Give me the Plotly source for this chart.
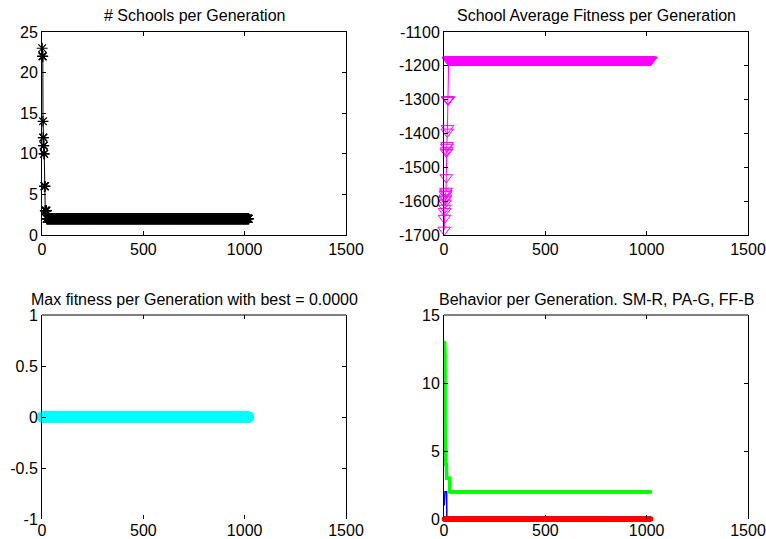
import plotly.graph_objects as go

# ---- data -------------------------------------------------------------
n_generations = 1020

# number of schools: transient at start, then steady count
schools_early = [23, 22, 22, 22, 14, 12, 12, 11, 11, 10, 10, 6, 6, 6, 6,
                 3, 3, 3, 3, 3, 3, 3]
schools_steady = 2

# school average fitness
avg_fitness_early = [-1685, -1650, -1630, -1620, -1605, -1595, -1590, -1580,
                     -1575, -1570, -1530, -1455, -1450, -1440, -1435, -1395,
                     -1385, -1300, -1300, -1300, -1300]
avg_fitness_steady = -1183

# max fitness per generation
max_fitness_steady = 0.0

# behaviour counts: SM (red), PA (green), FF (blue)
sm_early = [0]
sm_steady = 0
pa_early = [11, 13, 13, 12, 12, 5, 5, 5, 4, 4, 4, 4, 3, 3, 3, 3, 3, 3, 3,
            3, 3, 3, 3, 3, 3, 3, 3]
pa_steady = 2
ff_early = [1, 2, 1, 2, 2, 2, 2, 2, 2, 2, 2, 2, 2]
ff_steady = 0

# axis ticks
x_ticks = [0, 500, 1000, 1500]
x_ticktext = ["0", "500", "1000", "1500"]
schools_ticks = [0, 5, 10, 15, 20, 25]
fitness_ticks = [-1700, -1600, -1500, -1400, -1300, -1200, -1100]
fitness_ticktext = ["-1700", "-1600", "-1500", "-1400", "-1300", "-1200", "-1100"]
maxfit_ticks = [-1, -0.5, 0, 0.5, 1]
maxfit_ticktext = ["-1", "-0.5", "0", "0.5", "1"]
behavior_ticks = [0, 5, 10, 15]

titles = ["# Schools per Generation",
          "School Average Fitness per Generation",
          "Max fitness per Generation with best = 0.0000",
          "Behavior per Generation. SM-R, PA-G, FF-B"]


def series(early, steady):
    return list(early) + [steady] * (n_generations - len(early))


gens = list(range(1, n_generations + 1))
schools = series(schools_early, schools_steady)
avg_fitness = series(avg_fitness_early, avg_fitness_steady)
max_fitness = series([], max_fitness_steady)
sm = series(sm_early, sm_steady)
pa = series(pa_early, pa_steady)
ff = series(ff_early, ff_steady)

# ---- figure -----------------------------------------------------------
W, H = 766, 539
FONT = "Liberation Sans, Arial, Helvetica, sans-serif"
FONT_SIZE = 16


def dom_x(x0, x1):
    return [x0 / W, x1 / W]


def dom_y(top, bottom):
    return [(H - bottom) / H, (H - top) / H]


col_x = [dom_x(42, 346), dom_x(444, 748)]
row_y = [dom_y(32, 235), dom_y(315, 519)]

fig = go.Figure()

fig.add_trace(go.Scatter(
    x=gens, y=schools, mode="lines+markers", xaxis="x", yaxis="y",
    line=dict(color="black", width=1),
    marker=dict(symbol="asterisk-open", size=9, color="black",
                line=dict(color="black", width=1.2)),
    cliponaxis=False, showlegend=False))

fig.add_trace(go.Scatter(
    x=gens, y=avg_fitness, mode="lines+markers", xaxis="x2", yaxis="y2",
    line=dict(color="#FF00FF", width=1),
    marker=dict(symbol="triangle-down-open", size=11, color="#FF00FF",
                line=dict(color="#FF00FF", width=1)),
    cliponaxis=False, showlegend=False))

fig.add_trace(go.Scatter(
    x=gens, y=max_fitness, mode="lines+markers", xaxis="x3", yaxis="y3",
    line=dict(color="#00FFFF", width=1),
    marker=dict(symbol="circle", size=11, color="#00FFFF"),
    cliponaxis=False, showlegend=False))

fig.add_trace(go.Scatter(
    x=gens, y=pa, mode="lines+markers", xaxis="x4", yaxis="y4",
    line=dict(color="#00FF00", width=3.5),
    marker=dict(symbol="circle", size=3, color="#00FF00"),
    cliponaxis=False, showlegend=False))
fig.add_trace(go.Scatter(
    x=gens, y=ff, mode="lines", xaxis="x4", yaxis="y4",
    line=dict(color="#0000FF", width=1.5),
    cliponaxis=False, showlegend=False))
fig.add_trace(go.Scatter(
    x=gens, y=sm, mode="lines+markers", xaxis="x4", yaxis="y4",
    line=dict(color="#FF0000", width=4),
    marker=dict(symbol="circle", size=5, color="#FF0000"),
    cliponaxis=False, showlegend=False))

tickfont = dict(family=FONT, size=FONT_SIZE, color="black")
common_x = dict(range=[0, 1500], tickvals=x_ticks, ticktext=x_ticktext,
                ticks="inside", ticklen=4, tickcolor="black",
                showgrid=False, zeroline=False, tickfont=tickfont,
                automargin=False)
common_y = dict(ticks="inside", ticklen=4, tickcolor="black",
                showgrid=False, zeroline=False, tickfont=tickfont,
                automargin=False,
                showline=True, linecolor="black", linewidth=1, mirror="ticks")

fig.update_layout(
    width=W, height=H, margin=dict(l=0, r=0, t=0, b=0),
    paper_bgcolor="white", plot_bgcolor="white",
    xaxis=dict(domain=col_x[0], anchor="y", showline=True, linecolor="black",
               mirror="ticks", **common_x),
    yaxis=dict(domain=row_y[0], anchor="x", range=[0, 25],
               tickvals=schools_ticks, **common_y),
    xaxis2=dict(domain=col_x[1], anchor="y2", showline=True, linecolor="black",
                mirror="ticks", **common_x),
    yaxis2=dict(domain=row_y[0], anchor="x2", range=[-1700, -1100],
                tickvals=fitness_ticks, ticktext=fitness_ticktext, **common_y),
    xaxis3=dict(domain=col_x[0], anchor="y3", showline=False, mirror="ticks",
                **common_x),
    yaxis3=dict(domain=row_y[1], anchor="x3", range=[-1, 1],
                tickvals=maxfit_ticks, ticktext=maxfit_ticktext, **common_y),
    xaxis4=dict(domain=col_x[1], anchor="y4", showline=False, mirror="ticks",
                **common_x),
    yaxis4=dict(domain=row_y[1], anchor="x4", range=[0, 15],
                tickvals=behavior_ticks, **common_y),
)

# top border line of the lower panels
for xa, ya in (("x3", "y3"), ("x4", "y4")):
    fig.add_shape(type="line", xref=f"{xa} domain", yref=f"{ya} domain",
                  x0=0, x1=1, y0=1, y1=1, line=dict(color="black", width=1))

# panel titles
title_pos = [(col_x[0], 15.5), (col_x[1], 15.5), (col_x[0], 299), (col_x[1], 299)]
for text, (dx, ty) in zip(titles, title_pos):
    fig.add_annotation(text=text, xref="paper", yref="paper",
                       x=(dx[0] + dx[1]) / 2, y=(H - ty) / H,
                       xanchor="center", yanchor="middle", showarrow=False,
                       font=dict(family=FONT, size=FONT_SIZE, color="black"))

fig.write_html("out.html")
